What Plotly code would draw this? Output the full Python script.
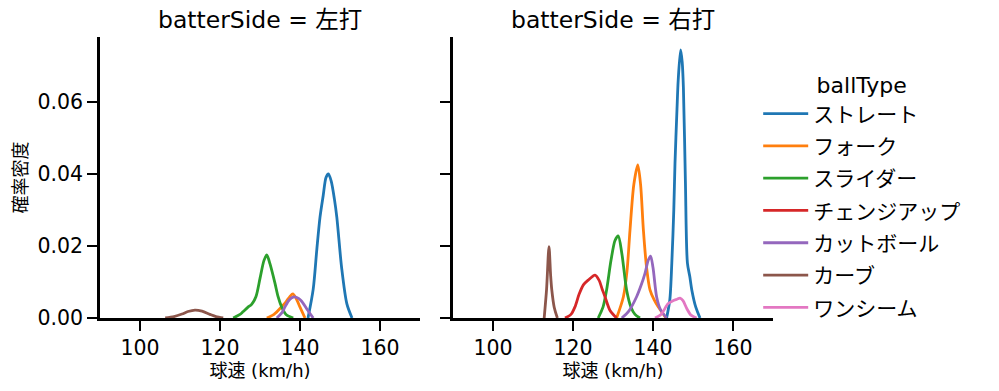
import plotly.graph_objects as go

FONT = "DejaVu Sans, Noto Sans CJK JP"
CJK = "Noto Sans CJK JP"

ball_types = ["ストレート", "フォーク", "スライダー", "チェンジアップ", "カットボール", "カーブ", "ワンシーム"]
colors = ["#1f77b4", "#ff7f0e", "#2ca02c", "#d62728", "#9467bd", "#8c564b", "#e377c2"]
panel_titles = ["batterSide = 左打", "batterSide = 右打"]
x_ticks = [100, 120, 140, 160]
y_ticks = [0.0, 0.02, 0.04, 0.06]
y_tick_labels = ["0.00", "0.02", "0.04", "0.06"]

# 左打 panel curves (speed km/h, density)
left_straight_x = [142.0, 143.3, 144.2, 145.0, 145.8, 146.5, 147.1, 147.8, 148.6, 149.2, 150.4, 151.7, 153.0]
left_straight_y = [0, 0.008, 0.019, 0.028, 0.034, 0.039, 0.040, 0.038, 0.033, 0.028, 0.014, 0.004, 0]
left_fork_x = [131.7, 133.5, 135.4, 136.5, 137.5, 138.2, 139.0, 140.0, 141.25]
left_fork_y = [0, 0.001, 0.0031, 0.0045, 0.006, 0.0067, 0.0055, 0.003, 0]
left_slider_x = [123.3, 125.0, 125.8, 127.0, 127.9, 129.0, 130.0, 131.0, 131.7, 132.5, 133.75, 134.5, 135.4, 136.5, 138.3]
left_slider_y = [0, 0.001, 0.0018, 0.003, 0.0038, 0.006, 0.011, 0.016, 0.0175, 0.015, 0.0096, 0.006, 0.0031, 0.001, 0]
left_cutter_x = [134.2, 135.5, 136.25, 137.3, 138.3, 139.2, 140.3, 141.7, 143.3]
left_cutter_y = [0, 0.0015, 0.0031, 0.005, 0.0058, 0.0057, 0.0048, 0.0025, 0]
left_curve_x = [106.3, 108.5, 110.5, 112.0, 113.75, 115.5, 117.5, 119.0, 120.8]
left_curve_y = [0, 0.0004, 0.0011, 0.0018, 0.0022, 0.0019, 0.0010, 0.0004, 0]

# 右打 panel curves
right_straight_x = [143.4, 144.2, 144.7, 145.2, 145.5, 146.0, 146.3, 146.9, 147.3, 147.6, 148.1, 148.6, 149.2, 149.7, 150.7, 151.75]
right_straight_y = [0, 0.005, 0.0152, 0.030, 0.043, 0.058, 0.066, 0.0744, 0.071, 0.064, 0.038, 0.0153, 0.0115, 0.0078, 0.003, 0]
right_fork_x = [130.9, 132.6, 133.5, 134.25, 135.2, 136.2, 136.9, 137.6, 138.4, 139.25, 140.3, 141.3, 143.25]
right_fork_y = [0, 0.0059, 0.013, 0.0244, 0.037, 0.0425, 0.037, 0.0244, 0.014, 0.0078, 0.005, 0.0031, 0]
right_slider_x = [126.3, 127.5, 128.4, 129.5, 130.5, 131.3, 132.2, 133.4, 134.5, 135.5, 136.75]
right_slider_y = [0, 0.003, 0.0078, 0.016, 0.0215, 0.0228, 0.018, 0.0078, 0.003, 0.001, 0]
right_change_x = [118.0, 119.5, 120.5, 121.5, 122.6, 123.8, 125.5, 126.5, 127.3, 128.0, 129.3, 130.9]
right_change_y = [0, 0.001, 0.0031, 0.0065, 0.0092, 0.0105, 0.0119, 0.0105, 0.008, 0.0059, 0.002, 0]
right_cutter_x = [132.2, 134.0, 135.9, 137.0, 138.0, 138.8, 139.4, 140.0, 140.9, 141.8, 143.4]
right_cutter_y = [0, 0.002, 0.0059, 0.009, 0.0124, 0.0160, 0.0172, 0.0140, 0.0059, 0.0025, 0]
right_curve_x = [112.8, 113.4, 114.0, 114.4, 114.7, 115.3, 116.1]
right_curve_y = [0, 0.008, 0.0198, 0.012, 0.0078, 0.003, 0]
right_oneseam_x = [140.5, 142.0, 143.8, 145.0, 146.0, 146.75, 147.5, 148.5, 149.5, 150.9]
right_oneseam_y = [0, 0.001, 0.004, 0.0048, 0.0052, 0.0055, 0.0048, 0.0025, 0.0008, 0]

left_curves = {
    "ストレート": (left_straight_x, left_straight_y),
    "フォーク": (left_fork_x, left_fork_y),
    "スライダー": (left_slider_x, left_slider_y),
    "カットボール": (left_cutter_x, left_cutter_y),
    "カーブ": (left_curve_x, left_curve_y),
}
right_curves = {
    "ストレート": (right_straight_x, right_straight_y),
    "フォーク": (right_fork_x, right_fork_y),
    "スライダー": (right_slider_x, right_slider_y),
    "チェンジアップ": (right_change_x, right_change_y),
    "カットボール": (right_cutter_x, right_cutter_y),
    "カーブ": (right_curve_x, right_curve_y),
    "ワンシーム": (right_oneseam_x, right_oneseam_y),
}

fig = go.Figure()
for i, bt in enumerate(ball_types):
    for panel, curves in ((0, left_curves), (1, right_curves)):
        if bt not in curves:
            continue
        xs, ys = curves[bt]
        fig.add_trace(go.Scatter(
            x=xs, y=ys, mode="lines", name=bt,
            line=dict(color=colors[i], width=2.8, shape="spline", smoothing=0.8),
            xaxis="x" if panel == 0 else "x2", yaxis="y" if panel == 0 else "y2",
            legendgroup=bt, showlegend=(panel == 1), legendrank=i + 1,
        ))

axis_common = dict(
    showgrid=False, zeroline=False, showline=True, linecolor="black", linewidth=2.5,
    ticks="outside", ticklen=10, tickwidth=2, tickcolor="black",
    tickfont=dict(family=FONT, size=20.5, color="black"),
)
xtitle = dict(text="球速 (km/h)", font=dict(family=FONT, size=18), standoff=6)
fig.update_layout(
    width=999, height=391,
    margin=dict(l=100, r=226, t=37, b=73),
    plot_bgcolor="white", paper_bgcolor="white",
    font=dict(family=FONT, color="black"),
    xaxis=dict(domain=[0, 0.4755], range=[90, 170], tickvals=x_ticks, title=xtitle, **axis_common),
    xaxis2=dict(domain=[0.5245, 1], range=[90, 170], tickvals=x_ticks, title=xtitle, **axis_common),
    yaxis=dict(range=[0, 0.078], tickvals=y_ticks, ticktext=y_tick_labels,
               title=dict(text="確率密度", font=dict(family=CJK, size=18), standoff=6), **axis_common),
    yaxis2=dict(range=[0, 0.078], tickvals=y_ticks, showticklabels=False, anchor="x2", matches="y", **axis_common),
    legend=dict(
        title=dict(text="ballType", font=dict(family=FONT, size=22), side="top center"),
        font=dict(family=CJK, size=21), x=0.978, xanchor="left", y=0.901, yanchor="top",
        traceorder="grouped", tracegroupgap=2, itemwidth=45, bgcolor="rgba(0,0,0,0)",
    ),
    showlegend=True,
)
for t, xc in zip(panel_titles, [0.4755 / 2, (0.5245 + 1) / 2]):
    fig.add_annotation(text=t, x=xc, y=1.0, xref="paper", yref="paper", xanchor="center", yanchor="bottom",
                       yshift=1, showarrow=False, font=dict(family=FONT, size=23.5, color="black"))

fig.write_html("out.html", config={"displayModeBar": False},
               post_script="document.body.style.margin='0';document.body.style.overflow='hidden';")
